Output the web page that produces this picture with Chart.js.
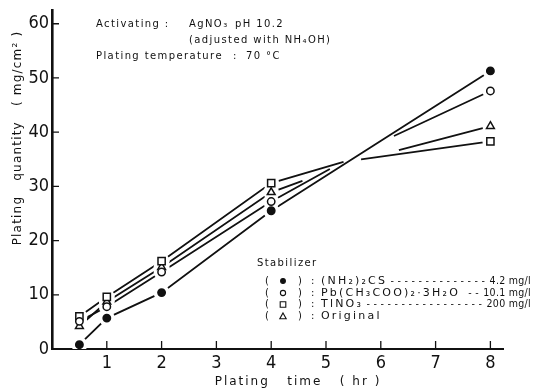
<!DOCTYPE html>
<html>
<head>
<meta charset="utf-8">
<script src="https://cdn.jsdelivr.net/npm/chart.js@4.4.1/dist/chart.umd.min.js"></script>
<style>
    html, body { margin: 0; padding: 0; background: #fff; }
    #wrap { width: 541px; height: 392px; }
</style>
</head>
<body>
<div id="wrap"><canvas id="plating" width="541" height="392"></canvas></div>
<script>
// measured points
const hours = [0.5, 1, 2, 4, 8]
const thioureaMg = [0.8, 5.7, 10.4, 25.5, 51.3]
const leadAcetateMg = [5.1, 7.8, 14.2, 27.2, 47.6]
const thalliumMg = [6.0, 9.6, 16.2, 30.6, 38.3]
const originalMg = [4.2, 8.7, 15.1, 28.9, 41.1]

// drawn curves (null = the pen lifts where the lines cross)
const leadCurveHours = [0.5, 1, 2, 4, 5.07, 5.6, 6.24, 8]
const leadCurveMg = [5.1, 7.8, 14.2, 27.2, 33.2, null, 39.3, 47.6]
const thalliumCurveHours = [0.5, 1, 2, 4, 5.32, 5.5, 5.64, 8]
const thalliumCurveMg = [6.0, 9.6, 16.2, 30.6, 34.5, null, 35.0, 38.3]
const originalCurveHours = [0.5, 1, 2, 4, 4.57, 5.5, 6.33, 8]
const originalCurveMg = [4.2, 8.7, 15.1, 28.9, 31.0, null, 36.7, 41.1]

const xTicks = [1, 2, 3, 4, 5, 6, 7, 8]
const yTicks = [0, 10, 20, 30, 40, 50, 60]

const legendTitle = 'Stabilizer'
const legendRows = [
    { style: 'filled', name: '(NH₂)₂CS', amount: '4.2 mg/l' },
    { style: 'circle', name: 'Pb(CH₃COO)₂·3H₂O', amount: '10.1 mg/l' },
    { style: 'rect', name: 'TlNO₃', amount: '200 mg/l' },
    { style: 'triangle', name: 'Original', amount: '' }
]

const INK = '#111'

function pontos(xs, ys) {
    return xs.map((x, i) => ({ x: x, y: ys[i] }))
}

function linha(xs, ys) {
    return {
        data: pontos(xs, ys),
        borderColor: INK,
        borderWidth: 1.8,
        pointRadius: 0,
        tension: 0,
        spanGaps: false,
        order: 3
    }
}

// white disc under each marker so the pen line stops short of it
function halo(ys) {
    return {
        data: pontos(hours, ys),
        showLine: false,
        pointRadius: 8,
        pointBackgroundColor: '#fff',
        pointBorderColor: '#fff',
        pointBorderWidth: 0,
        order: 2
    }
}

function marcador(ys, style) {
    const cfg = {
        data: pontos(hours, ys),
        showLine: false,
        pointBorderColor: INK,
        pointBorderWidth: 1.5,
        pointBackgroundColor: '#fff',
        pointStyle: 'circle',
        pointRadius: 3.7,
        order: 1
    }
    if (style === 'filled') cfg.pointBackgroundColor = INK
    if (style === 'rect') { cfg.pointStyle = 'rect'; cfg.pointRadius = 5.1 }
    if (style === 'triangle') { cfg.pointStyle = 'triangle'; cfg.pointRadius = 4.5 }
    return cfg
}

function simbolo(ctx, style, x, y) {
    ctx.save()
    ctx.beginPath()
    if (style === 'rect') {
        ctx.rect(x - 2.8, y - 2.8, 5.6, 5.6)
    } else if (style === 'triangle') {
        ctx.moveTo(x, y - 3.6)
        ctx.lineTo(x + 3.2, y + 2.2)
        ctx.lineTo(x - 3.2, y + 2.2)
        ctx.closePath()
    } else {
        ctx.arc(x, y, style === 'filled' ? 2.4 : 2.6, 0, Math.PI * 2)
    }
    ctx.fillStyle = style === 'filled' ? INK : '#fff'
    ctx.fill()
    ctx.stroke()
    ctx.restore()
}

const ticksInternos = {
    id: 'ticksInternos',
    afterDraw(chart) {
        const { ctx, chartArea, scales } = chart
        ctx.save()
        ctx.strokeStyle = INK
        ctx.lineWidth = 1.3
        ctx.beginPath()
        scales.y.ticks.forEach(t => {
            if (t.value === 0) return
            const py = scales.y.getPixelForValue(t.value)
            ctx.moveTo(chartArea.left, py)
            ctx.lineTo(chartArea.left + 7, py)
        })
        scales.x.ticks.forEach(t => {
            const px = scales.x.getPixelForValue(t.value)
            ctx.moveTo(px, chartArea.bottom)
            ctx.lineTo(px, chartArea.bottom - 8)
        })
        ctx.stroke()
        ctx.restore()
    }
}

const textos = {
    id: 'textos',
    afterDraw(chart) {
        const ctx = chart.ctx
        ctx.save()
        ctx.fillStyle = INK
        ctx.strokeStyle = INK
        ctx.textBaseline = 'middle'
        ctx.textAlign = 'left'

        // conditions in the top left
        ctx.font = '10px "DejaVu Sans"'
        ctx.letterSpacing = '1.4px'
        ctx.fillText('Activating :', 96, 24)
        ctx.fillText('AgNO₃', 189, 24)
        ctx.fillText('pH 10.2', 235, 24)
        ctx.fillText('(adjusted with NH₄OH)', 189, 40)
        ctx.fillText('Plating temperature', 96, 56)
        ctx.fillText(':', 233, 56)
        ctx.fillText('70 °C', 246, 56)

        // stabilizer legend
        ctx.fillText(legendTitle, 257, 263)
        const rowY = [281, 293, 304.5, 316.5]
        legendRows.forEach((row, i) => {
            const y = rowY[i]
            ctx.font = '10px "DejaVu Sans"'
            ctx.letterSpacing = '1px'
            ctx.textAlign = 'left'
            ctx.fillText('(', 265, y)
            ctx.fillText(')', 298, y)
            ctx.fillText(':', 311, y)
            ctx.lineWidth = 1.1
            simbolo(ctx, row.style, 283, y)
            ctx.font = '11px "DejaVu Sans"'
            ctx.letterSpacing = '2.2px'
            ctx.fillText(row.name, 321, y)
            if (row.amount) {
                const start = 321 + ctx.measureText(row.name).width + 3
                ctx.font = '10.5px "DejaVu Sans Condensed", "DejaVu Sans"'
                ctx.letterSpacing = '0.3px'
                ctx.textAlign = 'right'
                ctx.fillText(row.amount, 531, y)
                const end = 531 - ctx.measureText(row.amount).width - 1
                ctx.letterSpacing = '3.6px'
                const dash = ctx.measureText('-').width
                const n = Math.max(2, Math.floor((end - start) / dash))
                ctx.fillText('-'.repeat(n), end, y)
            }
        })

        // axis titles
        ctx.font = '12px "DejaVu Sans"'
        ctx.letterSpacing = '2px'
        ctx.textAlign = 'center'
        ctx.fillText('Plating   time   ( hr )', 298, 382)
        ctx.letterSpacing = '1.2px'
        ctx.translate(18, 138)
        ctx.rotate(-Math.PI / 2)
        ctx.fillText('Plating   quantity   ( mg/cm² )', 0, 0)
        ctx.restore()
    }
}

const ctx = document.getElementById('plating').getContext('2d')

new Chart(ctx, {
    type: 'line',
    data: {
        datasets: [
            linha(hours, thioureaMg),
            linha(leadCurveHours, leadCurveMg),
            linha(thalliumCurveHours, thalliumCurveMg),
            linha(originalCurveHours, originalCurveMg),
            halo(thioureaMg),
            halo(leadAcetateMg),
            halo(thalliumMg),
            halo(originalMg),
            marcador(thioureaMg, 'filled'),
            marcador(leadAcetateMg, 'circle'),
            marcador(thalliumMg, 'rect'),
            marcador(originalMg, 'triangle')
        ]
    },
    options: {
        responsive: false,
        animation: false,
        devicePixelRatio: 1,
        layout: { padding: { left: 0, right: 38, top: 8, bottom: 0 } },
        plugins: {
            legend: { display: false },
            tooltip: { enabled: false }
        },
        scales: {
            x: {
                type: 'linear',
                min: 0,
                max: 8.23,
                grid: { display: false, drawTicks: false },
                border: { display: true, color: INK, width: 2 },
                afterBuildTicks: scale => { scale.ticks = xTicks.map(v => ({ value: v })) },
                afterFit: scale => { scale.height = 43 },
                ticks: {
                    color: INK,
                    padding: 7,
                    maxRotation: 0,
                    font: { family: '"DejaVu Sans Condensed", "DejaVu Sans"', size: 18, lineHeight: 0.8 }
                }
            },
            y: {
                type: 'linear',
                min: 0,
                max: 62.5,
                grid: { display: false, drawTicks: false },
                border: { display: true, color: INK, width: 2.6 },
                afterBuildTicks: scale => { scale.ticks = yTicks.map(v => ({ value: v })) },
                afterFit: scale => { scale.width = 52 },
                ticks: {
                    color: INK,
                    padding: 3,
                    font: { family: '"DejaVu Sans Condensed", "DejaVu Sans"', size: 18, lineHeight: 0.8 }
                }
            }
        }
    },
    plugins: [ticksInternos, textos]
})
</script>
</body>
</html>
